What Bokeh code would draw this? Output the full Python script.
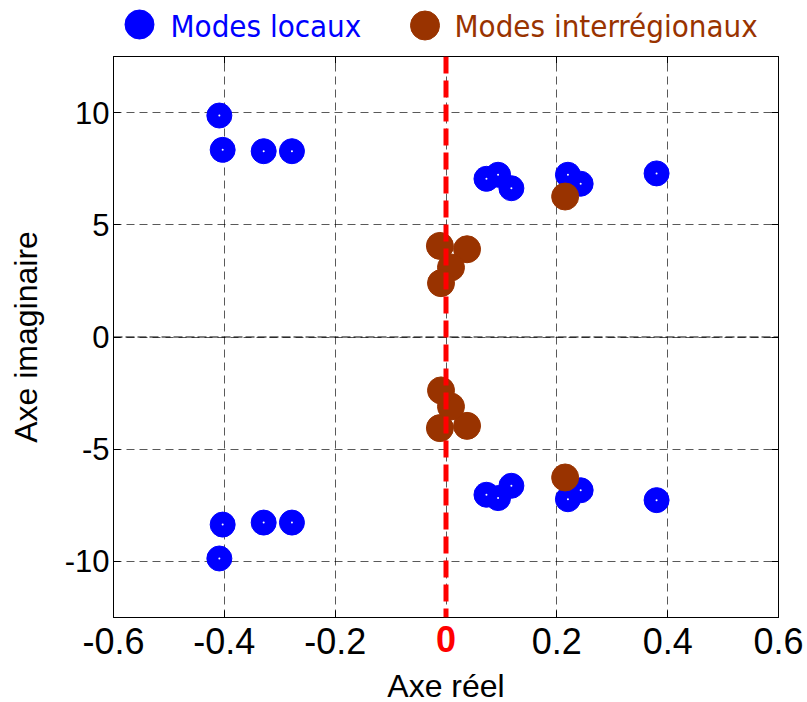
from bokeh.plotting import figure
from bokeh.layouts import column
from bokeh.models import FixedTicker, Span, LinearAxis, ColumnDataSource, Range1d
from bokeh.core.properties import value
from bokeh.embed import file_html
from bokeh.resources import INLINE

# Local modes (blue): real part, imaginary part
local_re = [-0.409, -0.403, -0.329, -0.278, 0.073, 0.094, 0.118, 0.220, 0.243, 0.380,
            -0.409, -0.403, -0.329, -0.278, 0.073, 0.094, 0.118, 0.220, 0.243, 0.380]
local_im = [9.87, 8.34, 8.28, 8.28, 7.05, 7.23, 6.63, 7.23, 6.83, 7.29,
            -9.87, -8.36, -8.27, -8.27, -7.03, -7.18, -6.63, -7.23, -6.83, -7.27]

# Inter-area modes (brown)
inter_re = [0.215, -0.011, 0.038, 0.009, -0.009,
            0.215, -0.011, 0.038, 0.009, -0.009]
inter_im = [6.26, 4.06, 3.91, 3.10, 2.40,
            -6.26, -4.06, -3.96, -3.10, -2.38]

x_ticks = [-0.6, -0.4, -0.2, 0, 0.2, 0.4, 0.6]
x_tick_labels = ["-0.6", "-0.4", "-0.2", "", "0.2", "0.4", "0.6"]
zero_tick = [0]
zero_label = "0"
y_ticks = [-10, -5, 0, 5, 10]
y_tick_labels = ["-10", "-5", "0", "5", "10"]
legend_labels = ["Modes locaux", "Modes interrégionaux"]
x_title = "Axe réel"
y_title = "Axe imaginaire"

BLUE = "#0000FF"
BROWN = "#993300"
FONT = "Liberation Sans"
LFONT = "DejaVu Sans Condensed"
BORDER_L = 113
BORDER_R = 29
FRAME_W = 665
FRAME_H = 561
LEG_H = 46

# ---------------- legend strip (frame aligned with the plot frame, px units) ----------------
leg = figure(frame_width=FRAME_W, frame_height=LEG_H,
             x_range=Range1d(BORDER_L, BORDER_L + FRAME_W),
             y_range=Range1d(LEG_H, 0), output_backend="svg",
             toolbar_location=None, min_border_left=BORDER_L,
             min_border_right=BORDER_R, min_border_top=0, min_border_bottom=0)
leg.axis.visible = False
leg.grid.visible = False
leg.outline_line_color = None
leg.background_fill_color = "white"
leg.border_fill_color = "white"
leg_src = ColumnDataSource(dict(
    mx=[139, 424.5], my=[24, 25], tx=[170, 454], ty=[25, 25],
    label=legend_labels, color=[BLUE, BROWN]))
leg.scatter("mx", "my", source=leg_src, size=29, marker="circle",
            fill_color="color", line_color="color")
leg.text("tx", "ty", text="label", source=leg_src, text_color="color",
         text_font=value(LFONT), text_font_size="31px",
         text_baseline="middle", text_align="left")

# ---------------- main plot ----------------
p = figure(frame_width=FRAME_W, frame_height=FRAME_H,
           x_range=(-0.6, 0.6), y_range=(-12.5, 12.5),
           output_backend="svg", toolbar_location=None,
           min_border_left=BORDER_L, min_border_top=56 - LEG_H,
           min_border_right=BORDER_R, min_border_bottom=60)
p.background_fill_color = "white"
p.border_fill_color = "white"
p.outline_line_color = "black"
p.outline_line_width = 1

p.xaxis.ticker = FixedTicker(ticks=x_ticks)
p.yaxis.ticker = FixedTicker(ticks=y_ticks)
p.xaxis.major_label_overrides = dict(zip(x_ticks, x_tick_labels))
p.yaxis.major_label_overrides = dict(zip(y_ticks, y_tick_labels))
for ax in (p.xaxis[0], p.yaxis[0]):
    ax.major_label_text_font = FONT
    ax.major_label_text_color = "black"
    ax.axis_label_text_font = FONT
    ax.axis_label_text_font_style = "normal"
    ax.axis_label_text_color = "black"
    ax.axis_label_text_font_size = "32px"
    ax.major_tick_in = 7
    ax.major_tick_out = 0
    ax.minor_tick_line_color = None
    ax.axis_line_color = "black"
    ax.major_tick_line_color = "black"
p.xaxis.major_label_text_font_size = "36px"
p.yaxis.major_label_text_font_size = "31px"
p.xaxis.major_label_standoff = 10
p.yaxis.major_label_standoff = 4
p.yaxis.axis_label = y_title
p.yaxis.axis_label_standoff = 18

# second real axis: red bold "0", pulled up onto the tick-label row; carries the title
zero_ax = LinearAxis(ticker=FixedTicker(ticks=zero_tick),
                     major_label_overrides={0: zero_label},
                     major_label_text_color="#FF0000", major_label_text_font=FONT,
                     major_label_text_font_style="bold",
                     major_label_text_font_size="36px", major_label_standoff=-31,
                     major_tick_in=0, major_tick_out=0,
                     major_tick_line_color=None, minor_tick_line_color=None,
                     axis_line_color=None,
                     axis_label=x_title, axis_label_text_font=FONT,
                     axis_label_text_font_style="normal",
                     axis_label_text_font_size="32px",
                     axis_label_text_color="black", axis_label_standoff=13)
p.add_layout(zero_ax, "below")

# mirror ticks on top and right (no labels)
top_ax = LinearAxis(ticker=FixedTicker(ticks=x_ticks), major_label_text_font_size="1px",
                    major_label_text_color=None,
                    major_tick_in=7, major_tick_out=0, minor_tick_line_color=None,
                    major_label_standoff=0)
right_ax = LinearAxis(ticker=FixedTicker(ticks=y_ticks), major_label_text_font_size="1px",
                      major_label_text_color=None,
                      major_tick_in=7, major_tick_out=0, minor_tick_line_color=None,
                      major_label_standoff=0)
p.add_layout(top_ax, "above")
p.add_layout(right_ax, "right")

# grid
p.xgrid.ticker = FixedTicker(ticks=x_ticks)
p.ygrid.ticker = FixedTicker(ticks=y_ticks)
for g in (p.xgrid[0], p.ygrid[0]):
    g.grid_line_color = "black"
    g.grid_line_alpha = 0.65
    g.grid_line_dash = "8 5"
    g.grid_line_width = 1

p.add_layout(Span(location=0, dimension="width", line_color="black",
                  line_width=1, line_dash="9 3"))

# data
src_local = ColumnDataSource(dict(x=local_re, y=local_im))
src_inter = ColumnDataSource(dict(x=inter_re, y=inter_im))
p.scatter("x", "y", source=src_local, size=25, marker="circle",
          fill_color=BLUE, line_color=BLUE)
p.scatter("x", "y", source=src_local, size=2, marker="circle",
          fill_color="white", line_color=None)
p.scatter("x", "y", source=src_inter, size=27, marker="circle",
          fill_color=BROWN, line_color=BROWN)

# red dashed imaginary axis
p.add_layout(Span(location=0, dimension="height", line_color="#FF0000",
                  line_width=5, line_dash="17 7"))

layout = column(leg, p, spacing=0)
open("out.html", "w").write(file_html(layout, INLINE))
